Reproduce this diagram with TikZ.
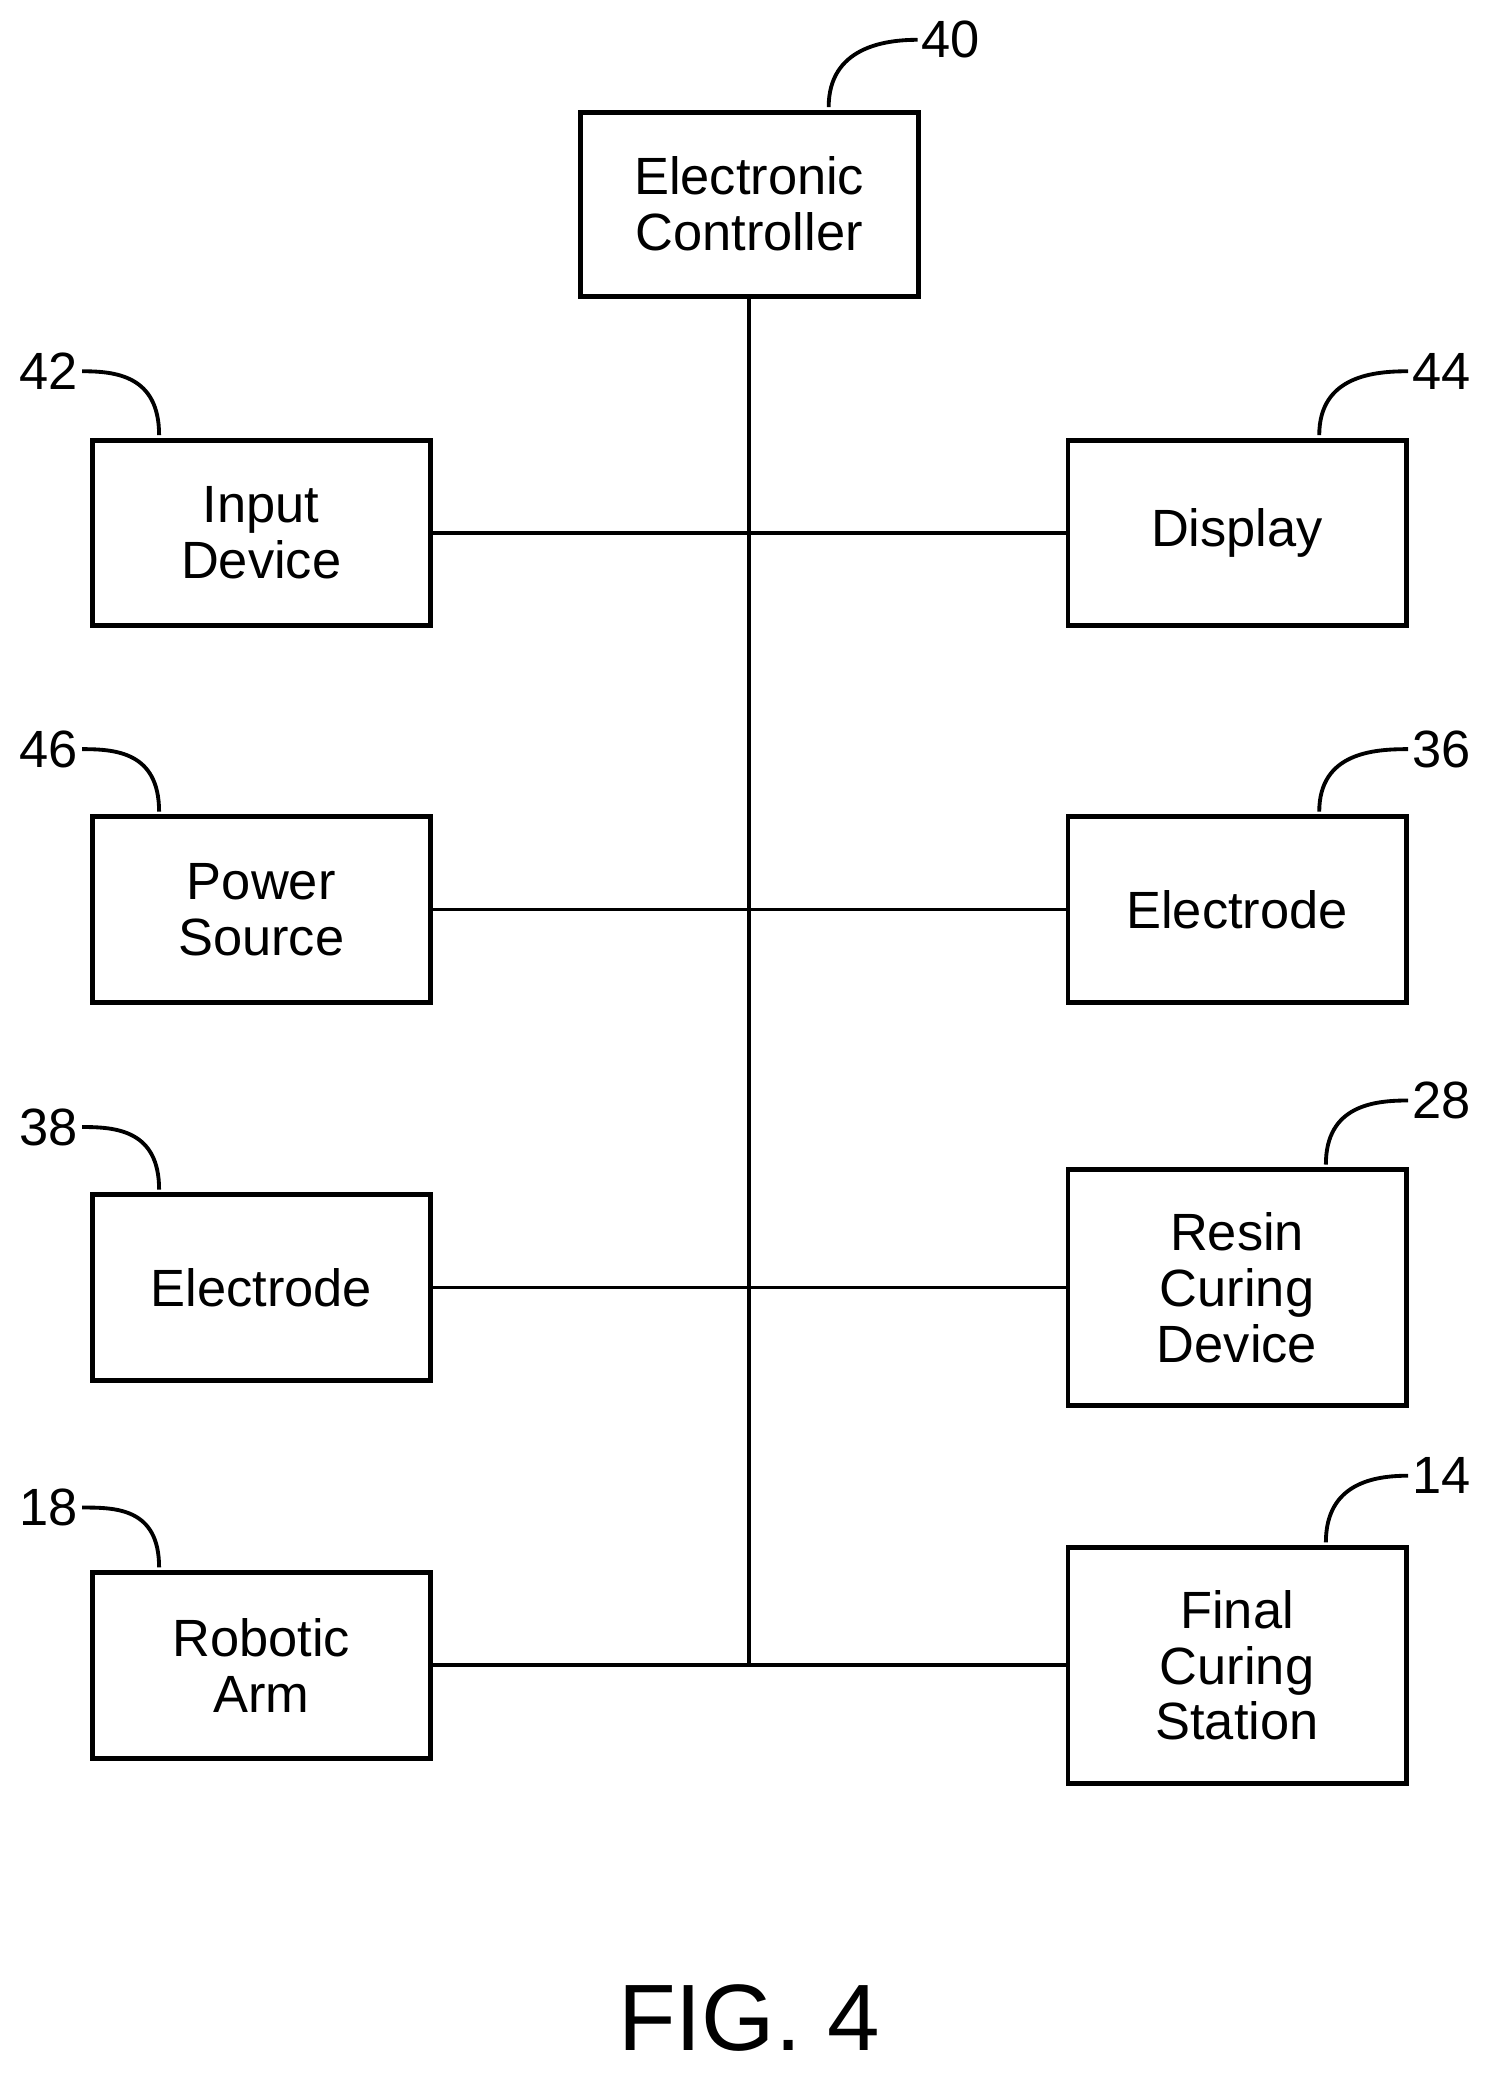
\documentclass[tikz,border=0pt]{standalone}
\usepackage{fontspec}
\setmainfont{Liberation Sans}
\usetikzlibrary{positioning}
\begin{document}
\begin{tikzpicture}[x=0.013333cm,y=-0.013333cm,
    block/.style={rectangle,draw=black,line width=1.4pt,minimum width=3.4cm,minimum height=1.867cm,align=center,font=\fontsize{15}{16}\selectfont,inner sep=0pt},
    tall/.style={block,minimum height=2.37cm},
    bus/.style={line width=1.1pt},
    lead/.style={line width=1.1pt},
    ref/.style={font=\fontsize{15}{16}\selectfont,inner sep=1pt},
  ]
  \useasboundingbox (0,0) rectangle (1125,1565);

  % Controller
  \node[block,minimum height=1.85cm] (ctrl) at (565,154) {Electronic\\Controller};

  % Left column
  \node[block] (input) at (197,402) {Input\\Device};
  \node[block] (power) at (197,686) {Power\\Source};
  \node[block] (elecL) at (197,971) {Electrode};
  \node[block] (robot) at (197,1256) {Robotic\\Arm};

  % Right column
  \node[block] (disp)  at (933,402) {Display};
  \node[block] (elecR) at (933,686) {Electrode};
  \node[tall]  (resin) at (933,971) {Resin\\Curing\\Device};
  \node[tall]  (final) at (933,1256) {Final\\Curing\\Station};

  % Bus
  \coordinate (busend) at (565,1256);
  \draw[bus] (ctrl.south) -- (busend);
  \foreach \l/\r in {input/disp,power/elecR,elecL/resin,robot/final}
    \draw[bus] (\l.east) -- (\r.west);

  % Reference numerals
  \node[ref,anchor=west] (n40) at (692,30) {40};
  \draw[lead] (ctrl.north) ++(60,-2) .. controls +(0,-45) and +(-25,0) .. (n40.west);
  \foreach \b/\n/\y in {input/42/280,power/46/565,elecL/38/850,robot/18/1137}{
    \node[ref,anchor=east] (n\n) at (62,\y) {\n};
    \draw[lead] (\b.north) ++(-77,-2) .. controls +(0,-45) and +(25,0) .. (n\n.east);
  }
  \foreach \b/\n/\y/\dx in {disp/44/280/62,elecR/36/565/62,resin/28/830/67,final/14/1113/67}{
    \node[ref,anchor=west] (n\n) at (1062,\y) {\n};
    \draw[lead] (\b.north) ++(\dx,-2) .. controls +(0,-45) and +(-25,0) .. (n\n.west);
  }

  % Caption
  \node[font=\fontsize{27}{30}\selectfont] (fig) at (565,1522) {FIG. 4};
\end{tikzpicture}
\end{document}
